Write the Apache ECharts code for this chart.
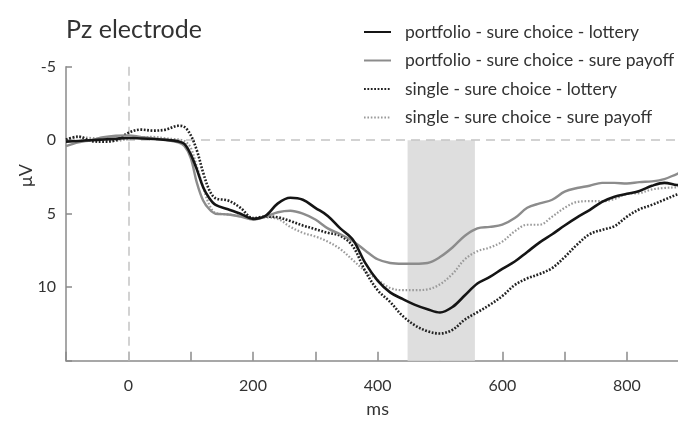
<!DOCTYPE html>
<html>
<head>
<meta charset="utf-8">
<script src="https://cdn.jsdelivr.net/npm/echarts@6/dist/echarts.min.js"></script>
<style>
  html, body { margin: 0; padding: 0; background: #fff; }
  #chart { width: 678px; height: 421px; }
</style>
</head>
<body>
<div id="chart"></div>
<script>
// Grand-average ERP at Pz, in ms after stimulus onset
const times = [-100, -80, -60, -40, -20, 0, 20, 40, 60, 80, 90, 100, 110, 120, 130, 140, 160, 180, 200,
  220, 240, 260, 280, 300, 320, 340, 360, 380, 400, 420, 440, 460, 480, 500, 520, 540, 560, 580, 600,
  620, 640, 660, 680, 700, 720, 740, 760, 780, 800, 820, 840, 860, 880, 895];

// Amplitudes in µV (positive plotted downward)
const portfolioLottery = [0.1, 0.05, 0.0, -0.05, -0.1, -0.15, -0.12, -0.08, -0.02, 0.08, 0.25, 0.95, 2.0, 3.2, 3.95, 4.4, 4.7, 5.0, 5.35,
  5.15, 4.3, 3.92, 4.05, 4.6, 5.15, 6.0, 6.75, 8.35, 9.55, 10.35, 10.8, 11.2, 11.5, 11.72, 11.35, 10.55, 9.75, 9.3, 8.75,
  8.25, 7.6, 6.95, 6.4, 5.8, 5.25, 4.75, 4.2, 3.85, 3.65, 3.45, 3.1, 2.9, 3.05, 3.1];

const portfolioSure = [0.4, 0.15, 0.0, -0.2, -0.3, -0.33, -0.22, -0.12, -0.03, 0.15, 0.4, 1.2, 2.9, 4.1, 4.7, 5.0, 5.05, 5.2, 5.4,
  5.2, 4.9, 4.8, 5.0, 5.4, 6.0, 6.4, 6.85, 7.5, 8.1, 8.35, 8.4, 8.4, 8.35, 7.95, 7.3, 6.5, 6.0, 5.9, 5.75,
  5.3, 4.6, 4.3, 4.05, 3.5, 3.25, 3.1, 2.9, 2.9, 2.95, 2.85, 2.8, 2.65, 2.3, 2.1];

const singleLottery = [-0.05, -0.25, 0.05, 0.1, 0.0, -0.5, -0.72, -0.65, -0.72, -0.98, -0.9, -0.35, 0.7, 2.2, 3.4, 3.95, 4.1, 4.6, 5.3,
  5.2, 5.25, 5.5, 5.8, 6.05, 6.3, 6.5, 7.2, 8.9, 10.2, 11.0, 11.95, 12.6, 13.0, 13.15, 12.9, 12.2, 11.7, 11.2, 10.6,
  9.85, 9.4, 9.1, 8.7, 7.95, 7.1, 6.4, 6.1, 5.85, 5.2, 4.7, 4.4, 4.05, 3.7, 3.5];

const singleSure = [0.0, -0.2, -0.15, -0.05, 0.05, -0.1, -0.2, -0.22, -0.12, -0.05, 0.05, 0.5, 1.8, 3.2, 4.4, 4.95, 5.05, 5.15, 5.35,
  5.25, 5.35, 5.9, 6.3, 6.55, 6.9, 7.4, 8.15, 8.9, 9.5, 10.05, 10.2, 10.2, 10.15, 9.8, 9.1, 8.1, 7.55, 7.3, 6.9,
  6.2, 5.75, 5.75, 5.2, 4.6, 4.2, 4.15, 4.15, 4.0, 3.65, 3.6, 3.35, 3.25, 3.2, 3.15];

const seriesNames = [
  'portfolio - sure choice - lottery',
  'portfolio - sure choice - sure payoff',
  'single - sure choice - lottery',
  'single - sure choice - sure payoff'
];

// Analysis window highlighted behind the waveforms (ms)
const windowStart = 448;
const windowEnd = 556;

const xTicks = [0, 200, 400, 600, 800];
const yTicks = [-5, 0, 5, 10];

const FONT = 'Lato';

const pairs = vals => times.map((t, i) => [t, vals[i]]);

const chart = echarts.init(document.getElementById('chart'), null, { renderer: 'canvas' });

const refLine = { color: '#c4c4c4', width: 1.5, type: [9, 6] };
const axisColor = '#8a8a8a';

chart.setOption({
  animation: false,
  backgroundColor: '#ffffff',
  title: {
    text: 'Pz electrode',
    left: 61,
    top: 12,
    textStyle: { fontFamily: FONT, fontSize: 25, fontWeight: 'normal', color: '#333' }
  },
  legend: {
    orient: 'vertical',
    left: 363,
    top: 22,
    padding: 0,
    itemWidth: 27,
    itemHeight: 14,
    itemGap: 8.5,
    data: seriesNames,
    // line-only keys: hide the marker glyph that line series add by default
    itemStyle: { opacity: 0 },
    textStyle: { fontFamily: FONT, fontSize: 17.5, lineHeight: 20, color: '#333', padding: [0, 0, 0, 9] }
  },
  // the time axis runs to 900 ms, just past the right edge of the canvas
  grid: { left: 66, right: -11.3, top: 66.7, bottom: 60.3, containLabel: false, outerBoundsMode: 'none' },
  xAxis: {
    type: 'value',
    min: -100,
    max: 900,
    interval: 100,
    name: 'ms',
    nameLocation: 'middle',
    nameGap: 39,
    nameTextStyle: { fontFamily: FONT, fontSize: 18, color: '#333' },
    axisLine: { show: true, onZero: false, lineStyle: { color: axisColor, width: 1.5 } },
    axisTick: { show: true, inside: true, length: 9, lineStyle: { color: axisColor, width: 1.5 } },
    axisLabel: {
      margin: 17,
      fontFamily: FONT,
      fontSize: 16,
      color: '#333',
      formatter: v => (xTicks.indexOf(v) >= 0 ? String(v) : '')
    },
    splitLine: { show: false }
  },
  yAxis: {
    type: 'value',
    inverse: true,
    min: -5,
    max: 15,
    interval: 5,
    axisLine: { show: true, onZero: false, lineStyle: { color: axisColor, width: 1.5 } },
    axisTick: { show: true, inside: true, length: 6, lineStyle: { color: axisColor, width: 1.5 } },
    axisLabel: {
      margin: 10,
      fontFamily: FONT,
      fontSize: 16,
      color: '#333',
      formatter: v => (yTicks.indexOf(v) >= 0 ? String(v) : '')
    },
    splitLine: { show: false }
  },
  graphic: [{
    type: 'text',
    x: 17,
    y: 187,
    rotation: Math.PI / 2,
    style: { text: 'μV', fontFamily: FONT, fontSize: 18, fill: '#333', textAlign: 'left', textVerticalAlign: 'top' }
  }],
  series: [
    {
      name: seriesNames[0],
      type: 'line',
      data: pairs(portfolioLottery),
      showSymbol: false,
      symbol: 'none',
      smooth: 0.35,
      z: 5,
      lineStyle: { color: '#151515', width: 2.6 },
      itemStyle: { color: '#151515' },
      markArea: {
        silent: true,
        itemStyle: { color: '#dedede' },
        data: [[{ xAxis: windowStart, yAxis: 0 }, { xAxis: windowEnd, yAxis: 15 }]]
      },
      markLine: {
        silent: true,
        symbol: 'none',
        z: 1,
        label: { show: false },
        lineStyle: refLine,
        data: [{ yAxis: 0 }, { xAxis: 0 }]
      }
    },
    {
      name: seriesNames[1],
      type: 'line',
      data: pairs(portfolioSure),
      showSymbol: false,
      symbol: 'none',
      smooth: 0.35,
      z: 4,
      lineStyle: { color: '#8c8c8c', width: 2.4 },
      itemStyle: { color: '#8c8c8c' }
    },
    {
      name: seriesNames[2],
      type: 'line',
      data: pairs(singleLottery),
      showSymbol: false,
      symbol: 'none',
      smooth: 0.35,
      z: 3,
      lineStyle: { color: '#222', width: 2.6, type: [1.8, 1.6] },
      itemStyle: { color: '#222' }
    },
    {
      name: seriesNames[3],
      type: 'line',
      data: pairs(singleSure),
      showSymbol: false,
      symbol: 'none',
      smooth: 0.35,
      z: 2,
      lineStyle: { color: '#9a9a9a', width: 2.2, type: [1.6, 1.8] },
      itemStyle: { color: '#9a9a9a' }
    }
  ]
});
</script>
</body>
</html>
